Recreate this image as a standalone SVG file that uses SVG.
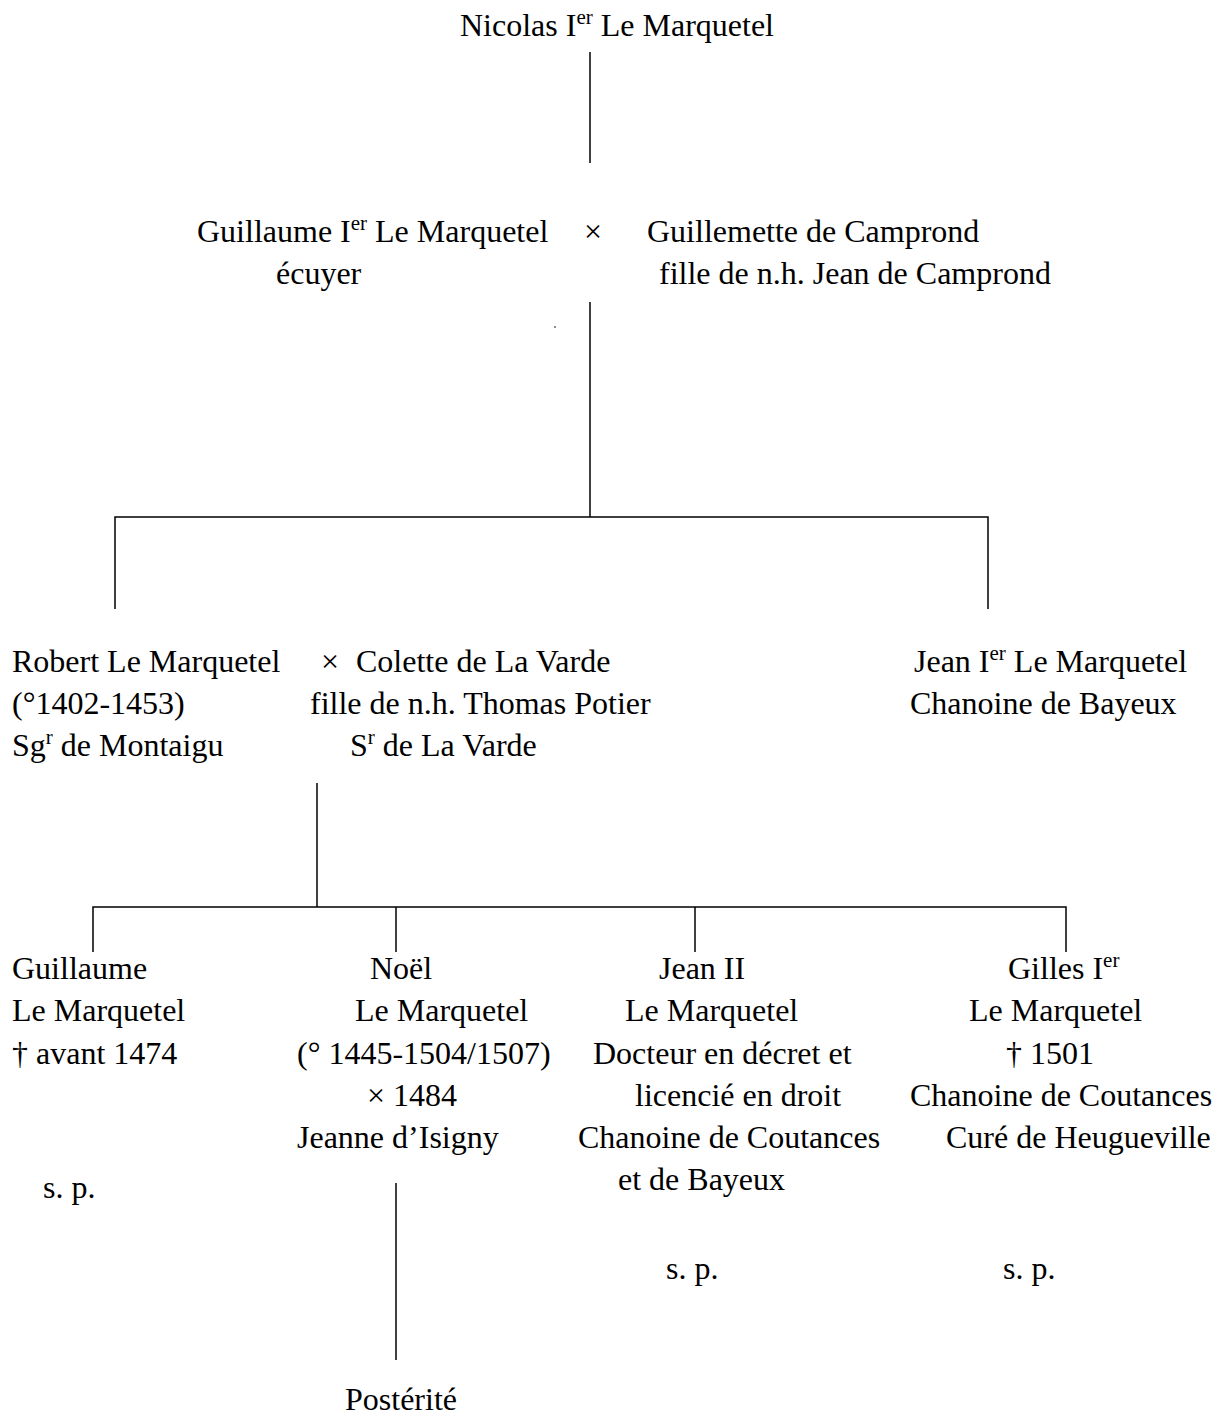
<svg xmlns="http://www.w3.org/2000/svg" width="1230" height="1419" viewBox="0 0 1230 1419">
<style>
text { font-family: "Liberation Serif", "Times New Roman", serif; font-size: 32px; fill: #000; }
.sup { font-size: 21px; }
.ln { stroke: #000; stroke-width: 1.5; fill: none; }
</style>
<rect width="1230" height="1419" fill="#fff"/>
<g id="connectors">
  <path class="ln" d="M590,52 V163"/>
  <path class="ln" d="M590,302 V517"/>
  <path class="ln" d="M115,609 V517 H988 V609"/>
  <path class="ln" d="M317,783 V907"/>
  <path class="ln" d="M93,952 V907 H1066 V952"/>
  <path class="ln" d="M396,907 V952"/>
  <path class="ln" d="M695,907 V952"/>
  <path class="ln" d="M396,1183 V1360"/>
  <circle cx="555" cy="327" r="0.8" fill="#000"/>
</g>
<g id="nicolas">
  <text x="460" y="36">Nicolas I<tspan class="sup" dy="-12">er</tspan><tspan dy="12"> Le Marquetel</tspan></text>
</g>
<g id="guillaume1">
  <text x="197" y="242">Guillaume I<tspan class="sup" dy="-12">er</tspan><tspan dy="12"> Le Marquetel</tspan></text>
  <text x="276" y="284">écuyer</text>
</g>
<g id="marriage1"><text x="584" y="242">×</text></g>
<g id="guillemette">
  <text x="647" y="242">Guillemette de Camprond</text>
  <text x="659" y="284">fille de n.h. Jean de Camprond</text>
</g>
<g id="robert">
  <text x="12" y="672">Robert Le Marquetel</text>
  <text x="12" y="714">(°1402-1453)</text>
  <text x="12" y="756">Sg<tspan class="sup" dy="-12">r</tspan><tspan dy="12"> de Montaigu</tspan></text>
</g>
<g id="marriage2"><text x="321" y="672">×</text></g>
<g id="colette">
  <text x="356" y="672">Colette de La Varde</text>
  <text x="310" y="714">fille de n.h. Thomas Potier</text>
  <text x="350" y="756">S<tspan class="sup" dy="-12">r</tspan><tspan dy="12"> de La Varde</tspan></text>
</g>
<g id="jean1">
  <text x="914" y="672">Jean I<tspan class="sup" dy="-12">er</tspan><tspan dy="12"> Le Marquetel</tspan></text>
  <text x="910" y="714">Chanoine de Bayeux</text>
</g>
<g id="guillaume2">
  <text x="12" y="979">Guillaume</text>
  <text x="12" y="1021">Le Marquetel</text>
  <text x="12" y="1064">† avant 1474</text>
  <text x="43" y="1198">s. p.</text>
</g>
<g id="noel">
  <text x="370" y="979">Noël</text>
  <text x="355" y="1021">Le Marquetel</text>
  <text x="297" y="1064">(° 1445-1504/1507)</text>
  <text x="367" y="1106">× 1484</text>
  <text x="297" y="1148">Jeanne d’Isigny</text>
</g>
<g id="jean2">
  <text x="659" y="979">Jean II</text>
  <text x="625" y="1021">Le Marquetel</text>
  <text x="593" y="1064">Docteur en décret et</text>
  <text x="635" y="1106">licencié en droit</text>
  <text x="578" y="1148">Chanoine de Coutances</text>
  <text x="618" y="1190">et de Bayeux</text>
  <text x="666" y="1279">s. p.</text>
</g>
<g id="gilles">
  <text x="1008" y="979">Gilles I<tspan class="sup" dy="-12">er</tspan></text>
  <text x="969" y="1021">Le Marquetel</text>
  <text x="1006" y="1064">† 1501</text>
  <text x="910" y="1106">Chanoine de Coutances</text>
  <text x="946" y="1148">Curé de Heugueville</text>
  <text x="1003" y="1279">s. p.</text>
</g>
<g id="posterite">
  <text x="345" y="1410">Postérité</text>
</g>
</svg>
